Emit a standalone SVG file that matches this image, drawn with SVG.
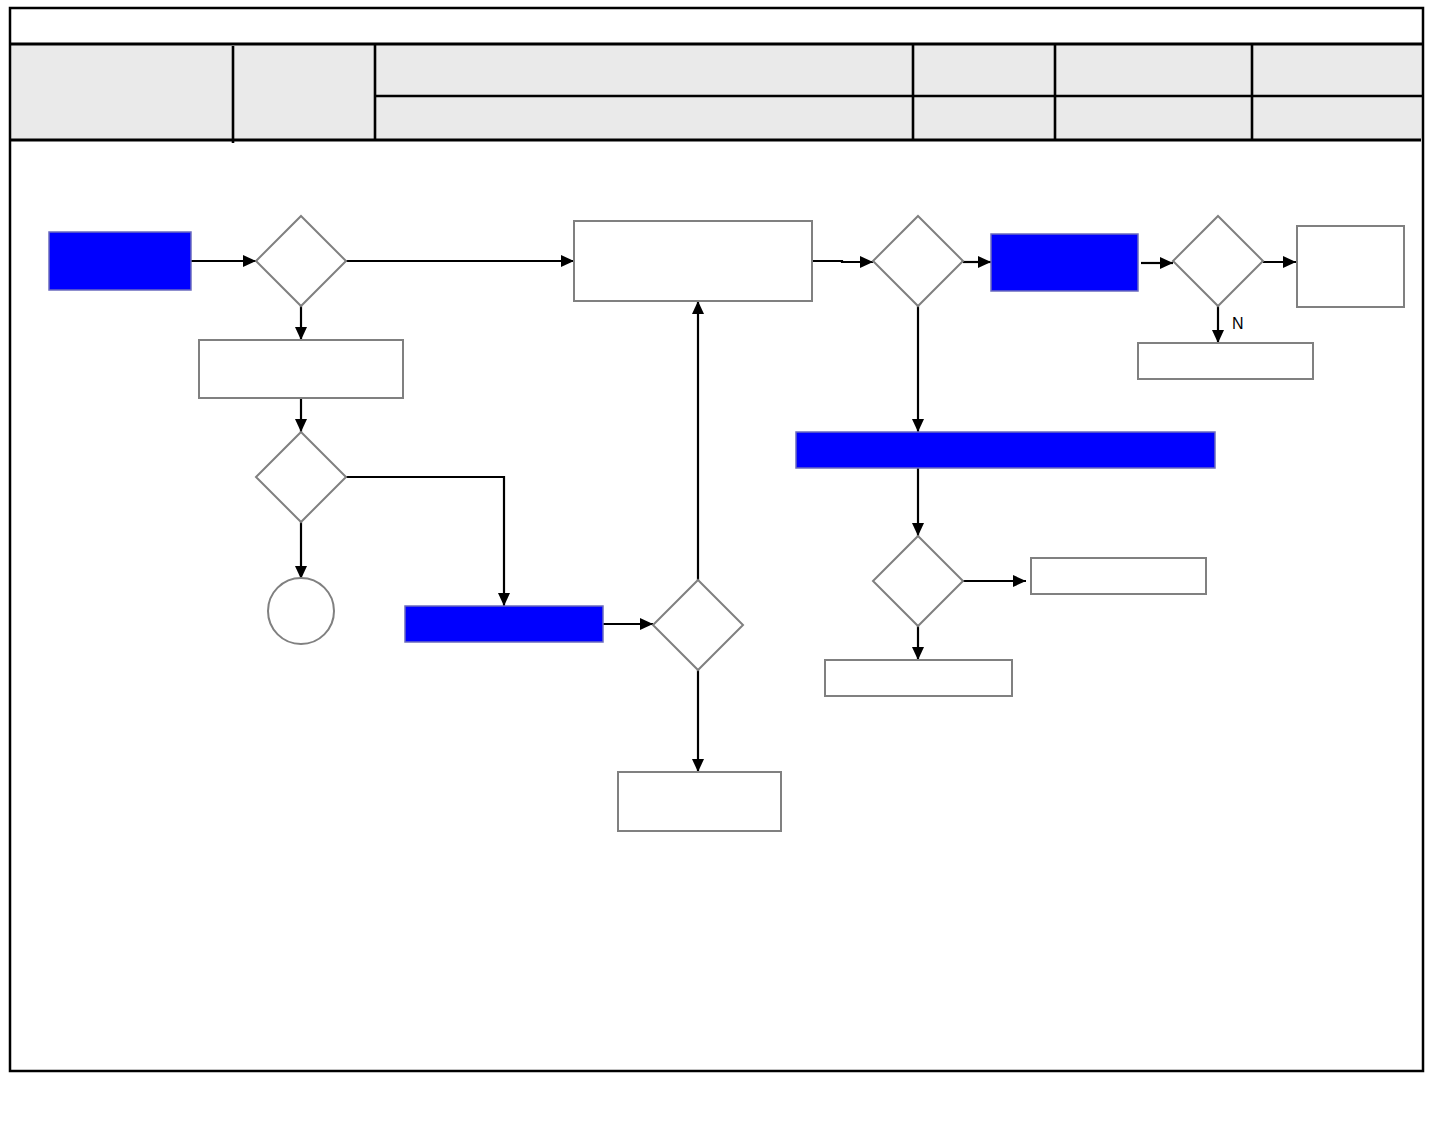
<svg xmlns="http://www.w3.org/2000/svg" width="1440" height="1137" viewBox="0 0 1440 1137">
<style>
.frame{fill:none;stroke:#000;stroke-width:2.5}
.hdr{fill:#eaeaea;stroke:none}
.hl{stroke:#000;stroke-width:3.2;fill:none}
.hl2{stroke:#000;stroke-width:2.6;fill:none}
.box{fill:#fff;stroke:#808080;stroke-width:2}
.blue{fill:#0000ff;stroke:#6b6bbf;stroke-width:1.5}
.dia{fill:#fff;stroke:#808080;stroke-width:2}
.con{fill:none;stroke:#000;stroke-width:2.2;marker-end:url(#ah)}
.lbl{font-family:"Liberation Sans",Arial,sans-serif;font-size:16px;fill:#000}
</style>
<defs>
<marker id="ah" markerUnits="userSpaceOnUse" markerWidth="13" markerHeight="12" refX="13" refY="6" orient="auto">
<path d="M0,0 L13,6 L0,12 z" fill="#000"/>
</marker>
</defs>
<rect x="0" y="0" width="1440" height="1137" fill="#fff"/>
<g id="header">
<rect class="hdr" x="11" y="45" width="1411" height="95"/>
<line class="hl" x1="10" y1="44" x2="1423" y2="44"/>
<line class="hl" x1="10" y1="140" x2="1421" y2="140"/>
<line class="hl2" x1="233" y1="46" x2="233" y2="143"/>
<line class="hl2" x1="375" y1="44" x2="375" y2="140"/>
<line class="hl2" x1="375" y1="96" x2="1423" y2="96"/>
<line class="hl2" x1="913" y1="44" x2="913" y2="140"/>
<line class="hl2" x1="1055" y1="44" x2="1055" y2="140"/>
<line class="hl2" x1="1252" y1="44" x2="1252" y2="140"/>
</g>
<rect id="frame" class="frame" x="10" y="8" width="1413" height="1063"/>
<g id="connectors">
<polyline class="con" points="191,261 256,261"/>
<polyline class="con" points="346,261 574,261"/>
<polyline class="con" points="301,306 301,340"/>
<polyline class="con" points="301,398 301,432"/>
<polyline class="con" points="301,522 301,579"/>
<polyline class="con" points="346,477 504,477 504,606"/>
<polyline class="con" points="603,624 653,624"/>
<polyline class="con" points="698,580 698,301"/>
<polyline class="con" points="698,670 698,772"/>
<polyline class="con" points="812,261 842,261 842,262 873,262"/>
<polyline class="con" points="963,262 991,262"/>
<polyline class="con" points="918,306 918,432"/>
<polyline class="con" points="1141,263 1173,263"/>
<polyline class="con" points="1263,262 1296,262"/>
<polyline class="con" points="1218,306 1218,343"/>
<polyline class="con" points="918,468 918,536"/>
<polyline class="con" points="963,581 1026,581"/>
<polyline class="con" points="918,626 918,660"/>
<text class="lbl" x="1232" y="329">N</text>
</g>
<g id="n1"><rect class="blue" x="49" y="232" width="142" height="58"/></g>
<g id="d1"><polygon class="dia" points="301,216 346,261 301,306 256,261"/></g>
<g id="n2"><rect class="box" x="199" y="340" width="204" height="58"/></g>
<g id="d2"><polygon class="dia" points="301,432 346,477 301,522 256,477"/></g>
<g id="c1"><circle class="box" cx="301" cy="611" r="33"/></g>
<g id="n3"><rect class="blue" x="405" y="606" width="198" height="36"/></g>
<g id="d3"><polygon class="dia" points="698,580 743,625 698,670 653,625"/></g>
<g id="n4"><rect class="box" x="618" y="772" width="163" height="59"/></g>
<g id="n5"><rect class="box" x="574" y="221" width="238" height="80"/></g>
<g id="d4"><polygon class="dia" points="918,216 963,261 918,306 873,261"/></g>
<g id="n6"><rect class="blue" x="991" y="234" width="147" height="57"/></g>
<g id="d5"><polygon class="dia" points="1218,216 1263,261 1218,306 1173,261"/></g>
<g id="n7"><rect class="box" x="1297" y="226" width="107" height="81"/></g>
<g id="n8"><rect class="box" x="1138" y="343" width="175" height="36"/></g>
<g id="n9"><rect class="blue" x="796" y="432" width="419" height="36"/></g>
<g id="d6"><polygon class="dia" points="918,536 963,581 918,626 873,581"/></g>
<g id="n10"><rect class="box" x="1031" y="558" width="175" height="36"/></g>
<g id="n11"><rect class="box" x="825" y="660" width="187" height="36"/></g>
</svg>
